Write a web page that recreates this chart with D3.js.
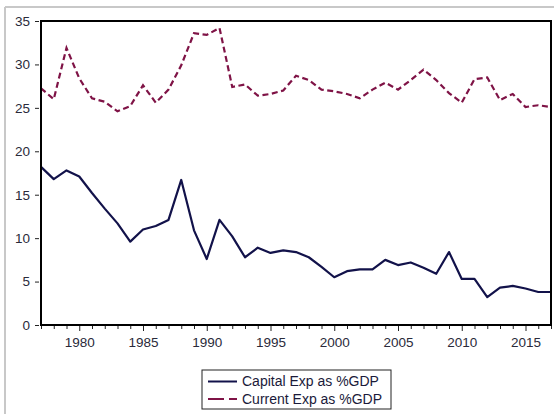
<!DOCTYPE html>
<html><head><meta charset="utf-8">
<script src="https://cdn.jsdelivr.net/npm/d3@7"></script>
<style>
html,body{margin:0;padding:0;background:#fff;}
svg{display:block;font-family:"Liberation Sans",Arial,sans-serif;}
</style></head>
<body><svg id="c" width="554" height="414"></svg>
<script>
const years = d3.range(1977, 2018);
const capitalExp = [18.2,16.8,17.8,17.1,15.2,13.4,11.7,9.6,11.0,11.4,12.1,16.7,10.9,7.6,12.1,10.2,7.8,8.9,8.3,8.6,8.4,7.8,6.7,5.5,6.2,6.4,6.4,7.5,6.9,7.2,6.6,5.9,8.4,5.3,5.3,3.2,4.3,4.5,4.2,3.8,3.8];
const currentExp = [27.25,26.0,31.9,28.4,26.1,25.7,24.6,25.2,27.6,25.6,27.1,29.9,33.6,33.4,34.2,27.4,27.7,26.4,26.6,27.0,28.7,28.2,27.1,26.9,26.6,26.1,27.1,27.9,27.1,28.2,29.4,28.2,26.7,25.6,28.3,28.5,25.9,26.6,25.1,25.3,25.1];
const yTicks = [0,5,10,15,20,25,30,35];
const xMajorTicks = [1980,1985,1990,1995,2000,2005,2010,2015];
const seriesNames = ["Capital Exp as %GDP","Current Exp as %GDP"];

const svg = d3.select("#c");
const L=41, R=551, T=21, B=325;
const x = d3.scaleLinear().domain([1977,2017]).range([L,R]);
const y = d3.scaleLinear().domain([0,35]).range([B,T]);

// outer gray border (screenshot frame)
svg.append("line").attr("x1",5).attr("x2",5).attr("y1",7).attr("y2",414).attr("stroke","#c8c8c8").attr("stroke-width",2);
svg.append("line").attr("x1",5).attr("x2",554).attr("y1",7).attr("y2",7).attr("stroke","#c8c8c8").attr("stroke-width",2);

// y axis
const yAx = svg.append("g").attr("transform",`translate(${L-2},0)`)
  .call(d3.axisLeft(y).tickValues(yTicks).tickSize(4).tickPadding(5));
yAx.select(".domain").remove();
yAx.selectAll("line").attr("stroke","#222");
yAx.selectAll("text").attr("font-size","13.5px").attr("fill","#2a2a3a").attr("font-family","Liberation Sans, Arial, sans-serif");

// x axis minor + major
const xMinor = svg.append("g").attr("transform",`translate(0,${B+1})`)
  .call(d3.axisBottom(x).tickValues(years.filter(v=>v%5!==0)).tickSize(3).tickFormat(""));
xMinor.select(".domain").remove();
xMinor.selectAll("line").attr("stroke","#222");
const xMaj = svg.append("g").attr("transform",`translate(0,${B+1})`)
  .call(d3.axisBottom(x).tickValues(xMajorTicks).tickSize(5).tickPadding(6).tickFormat(d3.format("d")));
xMaj.select(".domain").remove();
xMaj.selectAll("line").attr("stroke","#222");
xMaj.selectAll("text").attr("font-size","13.5px").attr("fill","#2a2a3a").attr("font-family","Liberation Sans, Arial, sans-serif");

// lines
const lineGen = d3.line().x((d,i)=>x(years[i])).y(d=>y(d));
svg.append("path").datum(currentExp).attr("d",lineGen)
  .attr("fill","none").attr("stroke","#7f1346").attr("stroke-width",2.2).attr("stroke-dasharray","6,3.5");
svg.append("path").datum(capitalExp).attr("d",lineGen)
  .attr("fill","none").attr("stroke","#12124a").attr("stroke-width",2.2).attr("stroke-linejoin","round");

// frame
svg.append("rect").attr("x",L).attr("y",T).attr("width",R-L).attr("height",B-T)
  .attr("fill","none").attr("stroke","#000").attr("stroke-width",2);

// legend
const lg = svg.append("g");
lg.append("rect").attr("x",202).attr("y",370).attr("width",189).attr("height",39)
  .attr("fill","#fff").attr("stroke","#222").attr("stroke-width",1);
const lstyles=[{c:"#12124a",d:null},{c:"#7f1346",d:"16,5,8,100"}];
seriesNames.forEach((n,i)=>{
  const yy = 381.5 + i*17.5;
  lg.append("line").attr("x1",208).attr("x2",237).attr("y1",yy).attr("y2",yy)
    .attr("stroke",lstyles[i].c).attr("stroke-width",2).attr("stroke-dasharray",lstyles[i].d);
  lg.append("text").attr("x",242).attr("y",yy).attr("dy","0.35em").attr("font-size","14px")
    .attr("fill","#1a1a3a").text(n);
});
</script></body></html>
